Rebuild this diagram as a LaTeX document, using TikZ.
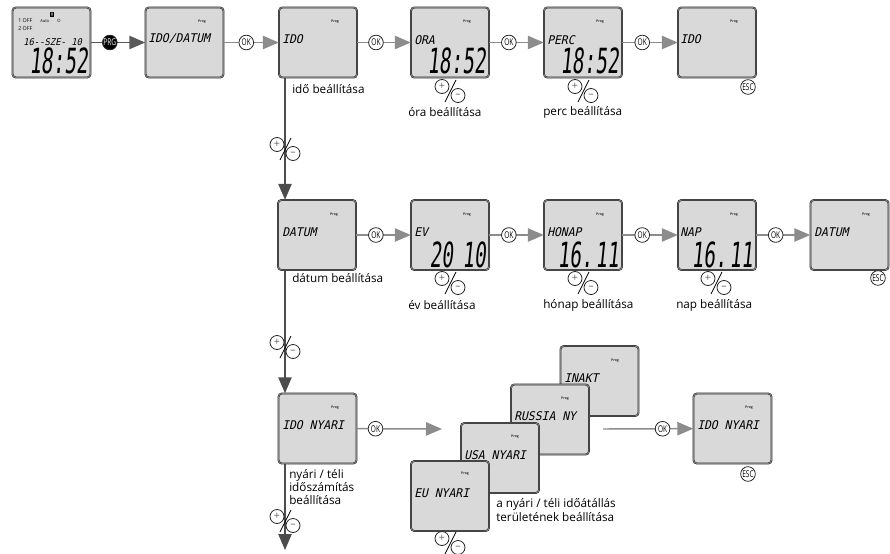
\documentclass[tikz,border=0pt]{standalone}
\usepackage{fontspec}
\setmainfont{Open Sans}
\newfontfamily\lcdfont[FakeSlant=0.22,FakeStretch=0.95]{DejaVu Sans Mono}
\newfontfamily\clockfont[FakeSlant=0.1,FakeStretch=0.56]{DejaVu Sans Mono}
\newfontfamily\btnfont[FakeStretch=0.7]{Open Sans}
\usetikzlibrary{arrows.meta}

\tikzset{
  plusminus/.pic={
    \node[btn, minimum size=10.5pt, text=black!60, font=\footnotesize] (-plus) at (-8,-4.5) {+};
    \node[btn, minimum size=10.5pt, text=black!60, font=\footnotesize] (-minus) at (8,4.5) {--};
    \draw[black, line width=.6pt] (6,-11) -- (-5,11);
  }
}

\begin{document}
\begin{tikzpicture}[
    x=.75pt, y=-.75pt,
    lcd/.style={draw=black!85, double=black!50, double distance=.7pt, line width=.35pt,
      fill=black!15, rounded corners=2.5pt, minimum width=58.5pt, minimum height=52.5pt, inner sep=0pt},
    lcdtext/.style={font=\lcdfont\fontsize{9}{9}\selectfont, inner sep=0pt, anchor=west},
    clock/.style={font=\clockfont\fontsize{26}{26}\selectfont, inner sep=0pt, anchor=east},
    prog/.style={font=\bfseries\fontsize{2.6}{3}\selectfont, inner sep=0pt, text=black!80},
    small/.style={font=\fontsize{4}{4}\selectfont, inner sep=0pt, anchor=west},
    caption/.style={font=\fontsize{8.8}{10}\selectfont, inner sep=0pt, anchor=west, align=left},
    btn/.style={circle, draw=black!85, fill=white, line width=.6pt, inner sep=0pt, minimum size=11pt,
      font=\btnfont\fontsize{7}{7}\selectfont},
    okflow/.style={draw=black!45, line width=1.1pt, -{Triangle[length=12pt, width=10pt]}},
    prgflow/.style={draw=black!65, line width=1.1pt, -{Triangle[length=12pt, width=10pt]}},
    menuflow/.style={draw=black!70, line width=1.1pt, -{Triangle[length=12pt, width=10pt]}}
  ]
    \useasboundingbox (0,0) rectangle (890,554);

    % first row
    \node[lcd] (home) at (51.5,42.5) {};
    \node[lcd] (idodatum) at (184.5,42.5) {};
    \node[lcd] (ido) at (318,42.5) {};
    \node[lcd] (ora) at (450,42.5) {};
    \node[lcd] (perc) at (583,42.5) {};
    \node[lcd] (idoend) at (717,42.5) {};

    % second row
    \node[lcd] (datum) at (317,235) {};
    \node[lcd] (ev) at (450,235) {};
    \node[lcd] (honap) at (583,235) {};
    \node[lcd] (nap) at (717,235) {};
    \node[lcd] (datumend) at (849.5,235) {};

    % third row
    \node[lcd] (nyari) at (317.5,428.5) {};
    \node[lcd] (inakt) at (599.5,381) {};
    \node[lcd] (russia) at (550,419.5) {};
    \node[lcd] (usa) at (500,458) {};
    \node[lcd] (eu) at (450,496) {};
    \node[lcd] (nyariend) at (732.5,428.5) {};

    % display texts
    \node[lcdtext, font=\lcdfont\fontsize{7}{7}\selectfont] (t1) at (23,42) {16--SZE- 10};
    \node[clock] (c1) at (88,61) {18:52};
    \node[small] (off1) at (18,21) {1 OFF};
    \node[small] (off2) at (18,29) {2 OFF};
    \node[small, font=\fontsize{3}{3}\selectfont] (auto) at (40,21.5) {Auto};
    \node[small] (sun) at (56,21) {$\circ$};
    \node[draw, fill=black!70, text=white, inner sep=.5pt, font=\fontsize{2.5}{3}\selectfont] (day) at (52,14) {5};
    \node[lcdtext] (t2) at (148,39) {IDO/DATUM};
    \node[lcdtext] (t3) at (282,39) {IDO};
    \node[lcdtext] (t4) at (414,40) {ORA};
    \node[clock] (c4) at (486,61) {18:52};
    \node[lcdtext] (t5) at (547,40) {PERC};
    \node[clock] (c5) at (619,61) {18:52};
    \node[lcdtext] (t6) at (680,39) {IDO};
    \node[lcdtext] (t7) at (282,232) {DATUM};
    \node[lcdtext] (t8) at (414,232) {EV};
    \node[clock] (c8) at (486,255) {20\hspace{7pt}10};
    \node[lcdtext] (t9) at (547,232) {HONAP};
    \node[clock] (c9) at (619,255) {16.\hspace{2pt}11};
    \node[lcdtext] (t10) at (680,232) {NAP};
    \node[clock] (c10) at (753,255) {16.\hspace{2pt}11};
    \node[lcdtext] (t11) at (814,232) {DATUM};
    \node[lcdtext] (t12) at (282,425) {IDO NYARI};
    \node[lcdtext] (t13) at (564,378) {INAKT};
    \node[lcdtext] (t14) at (514,416) {RUSSIA NY};
    \node[lcdtext] (t15) at (464,455) {USA NYARI};
    \node[lcdtext] (t16) at (414,493) {EU NYARI};
    \node[lcdtext] (t17) at (697,425) {IDO NYARI};

    % Prog marks
    \foreach \a/\x/\y in {p2/202/22, p3/335/22, p4/467/22, p5/600/22, p6/734/22,
        p7/334/215, p8/467/215, p9/600/215, p10/734/215, p11/866/215,
        p12/335/408, p13/615/361, p14/565/399, p15/515/437, p16/465/474, p17/749/408}
      \node[prog] (\a) at (\x,\y) {Prog};

    % horizontal flow
    \draw[prgflow] (home) -- node[btn, pos=.35, fill=black, text=white] (prg) {PRG} (idodatum);
    \draw[okflow] (idodatum) -- node[btn, pos=.41] (ok1) {OK} (ido);
    \draw[okflow] (ido) -- node[btn, pos=.35] (ok2) {OK} (ora);
    \draw[okflow] (ora) -- node[btn, pos=.36] (ok3) {OK} (perc);
    \draw[okflow] (perc) -- node[btn, pos=.36] (ok4) {OK} (idoend);
    \draw[okflow] (datum) -- node[btn, pos=.36] (ok5) {OK} (ev);
    \draw[okflow] (ev) -- node[btn, pos=.36] (ok6) {OK} (honap);
    \draw[okflow] (honap) -- node[btn, pos=.36] (ok7) {OK} (nap);
    \draw[okflow] (nap) -- node[btn, pos=.36] (ok8) {OK} (datumend);
    \coordinate (stackin) at (442,429);
    \coordinate (stackout) at (603,429);
    \draw[okflow] (nyari) -- node[btn, pos=.22] (ok9) {OK} (stackin);
    \draw[okflow] (stackout) -- node[btn, pos=.66] (ok10) {OK} (nyariend);

    % vertical flow
    \coordinate (trunk) at (285,0);
    \coordinate (bottom) at (285,550);
    \draw[menuflow] (ido.south -| trunk) -- (datum.north -| trunk);
    \draw[menuflow] (datum.south -| trunk) -- (nyari.north -| trunk);
    \draw[menuflow] (nyari.south -| trunk) -- (bottom);

    % plus minus
    \pic (pm1) at (285,149) {plusminus};
    \pic (pm2) at (285,347) {plusminus};
    \pic (pm3) at (285,521) {plusminus};
    \pic (pm4) at (450,91) {plusminus};
    \pic (pm5) at (583,91) {plusminus};
    \pic (pm6) at (450,283) {plusminus};
    \pic (pm7) at (583,283) {plusminus};
    \pic (pm8) at (716,283) {plusminus};
    \pic (pm9) at (450,543) {plusminus};

    % ESC
    \node[btn] (esc1) at (748,87) {ESC};
    \node[btn] (esc2) at (878,278) {ESC};
    \node[btn] (esc3) at (748,474) {ESC};

    % captions
    \node[caption] (l1) at (292,89) {idő beállítása};
    \node[caption] (l2) at (408,112) {óra beállítása};
    \node[caption] (l3) at (543,112) {perc beállítása};
    \node[caption] (l4) at (292,278) {dátum beállítása};
    \node[caption] (l5) at (408,305) {év beállítása};
    \node[caption] (l6) at (543,305) {hónap beállítása};
    \node[caption] (l7) at (676,305) {nap beállítása};
    \node[caption] (l8) at (289,487) {nyári / téli\\időszámítás\\beállítása};
    \node[caption] (l9) at (496,510) {a nyári / téli időátállás\\területének beállítása};
  \end{tikzpicture}
\end{document}
